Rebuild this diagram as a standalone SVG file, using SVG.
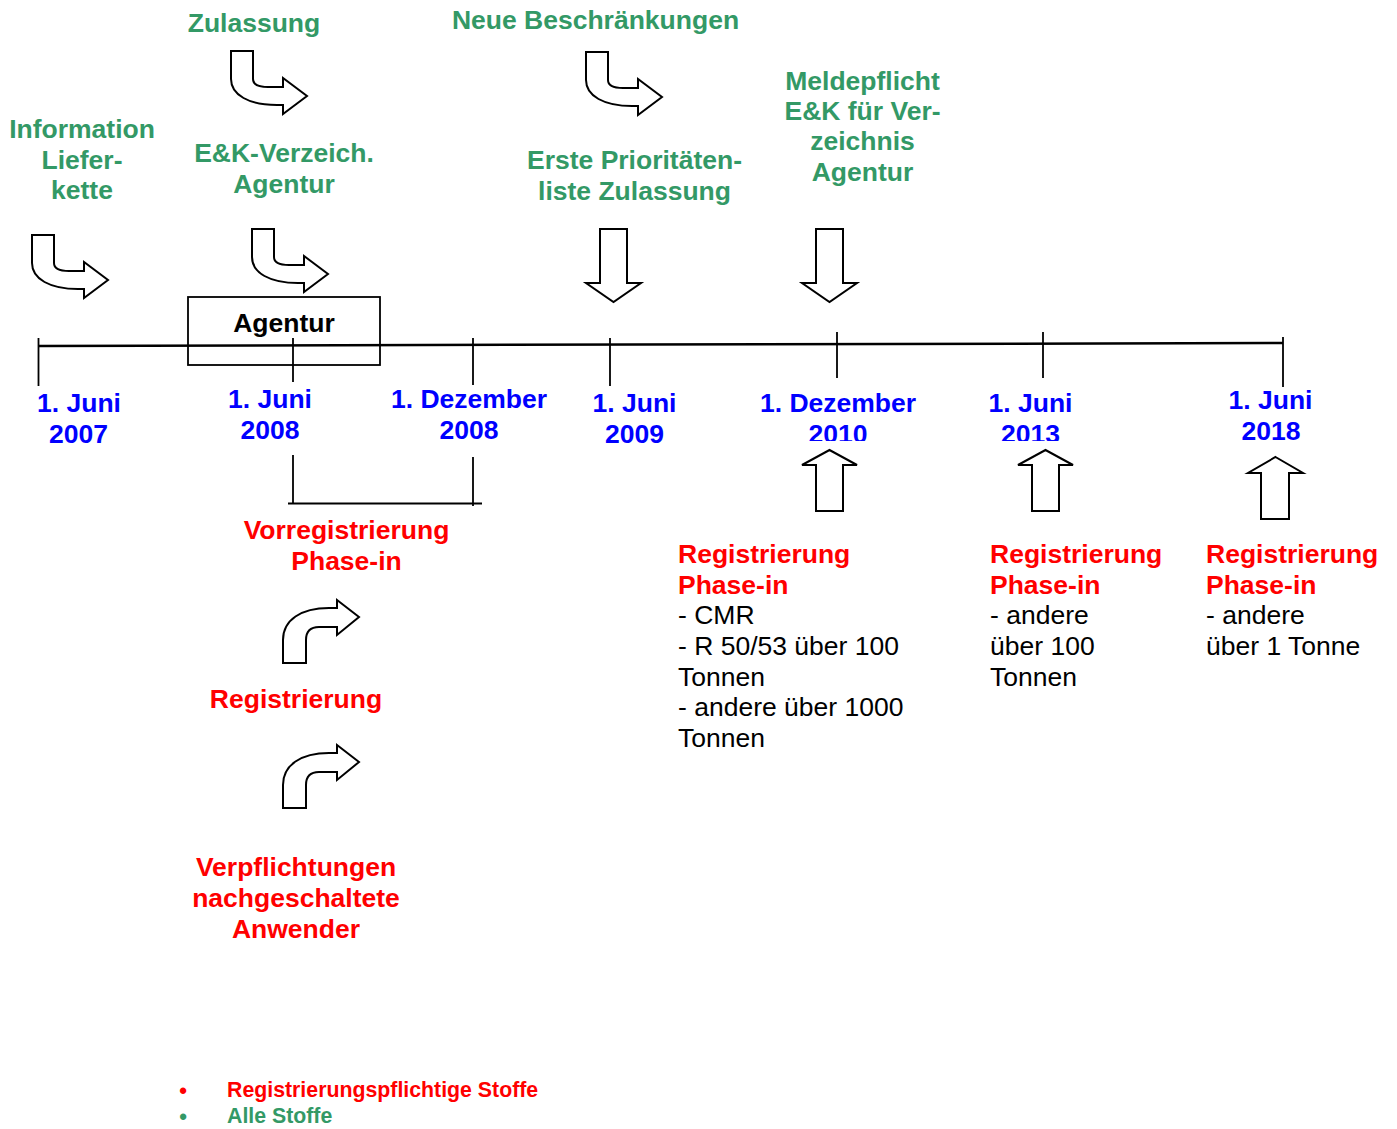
<svg xmlns="http://www.w3.org/2000/svg" width="1397" height="1129" viewBox="0 0 1397 1129">
<style>
text{font-family:"Liberation Sans",Arial,sans-serif;font-size:26.5px}
.b{font-weight:bold}
.g{fill:#339966;font-weight:bold;text-anchor:middle}
.bl{fill:#0000ff;font-weight:bold;text-anchor:middle}
.r{fill:#ff0000;font-weight:bold}
.rc{text-anchor:middle}
.k{fill:#000}
.lg{font-size:21.3px;font-weight:bold}
.bu{font-size:22px;font-weight:bold;text-anchor:middle}
.arr{fill:#fff;stroke:#000;stroke-width:2;stroke-linejoin:miter}
.tl{stroke:#000;stroke-width:2.5;fill:none}
.tk{stroke:#000;stroke-width:1.8;fill:none}
</style>
<defs>
<path id="bentDR" d="M0,0 H22 V28 C22,33 27,36 37,36 H52 V27 L76,45 L52,63 V54 H46 C18,54 0,44 0,28 Z"/>
<path id="bentUR" d="M0,63 V40 C0,20 18,8 46,8 H54 V0 L76,17 L54,35 V27 H36 C27,27 23,32 23,40 V63 Z"/>
<clipPath id="clipYr"><rect x="0" y="0" width="1397" height="441"/></clipPath>
</defs>
<rect width="1397" height="1129" fill="#fff"/>

<g id="connectors">
  <line class="tl" x1="38" y1="346" x2="1283" y2="343"/>
  <line class="tk" x1="38.5" y1="338" x2="38.5" y2="386"/>
  <line class="tk" x1="293" y1="338" x2="293" y2="382"/>
  <line class="tk" x1="473" y1="338" x2="473" y2="385"/>
  <line class="tk" x1="610" y1="338" x2="610" y2="386"/>
  <line class="tk" x1="837" y1="332" x2="837" y2="378"/>
  <line class="tk" x1="1043" y1="332" x2="1043" y2="378"/>
  <line class="tk" x1="1283" y1="337" x2="1283" y2="387"/>
  <path class="tk" d="M293,455 V503 M473,457 V506 M288,503.5 H482"/>
  <use href="#bentDR" class="arr" x="32" y="235"/>
  <use href="#bentDR" class="arr" x="252" y="229"/>
  <use href="#bentDR" class="arr" x="231" y="51"/>
  <use href="#bentDR" class="arr" x="586" y="52"/>
  <path class="arr" d="M600,229 H627 V283 H641 L613.5,302 L586,283 H600 Z"/>
  <path class="arr" d="M816,229 H843 V283 H857 L829.5,302 L802,283 H816 Z"/>
  <path class="arr" d="M829.5,450 L857,465 H843 V511 H816 V465 H802 Z"/>
  <path class="arr" d="M1045.5,450 L1073,465 H1059 V511 H1032 V465 H1018 Z"/>
  <path class="arr" d="M1275.5,457 L1303,473 H1289 V519 H1261 V473 H1248 Z"/>
  <use href="#bentUR" class="arr" x="283" y="600"/>
  <use href="#bentUR" class="arr" x="283" y="745"/>
</g>

<g id="agentur-box">
  <rect x="188" y="297" width="192" height="68" fill="none" stroke="#000" stroke-width="1.8"/>
  <text class="b k" x="284" y="332" text-anchor="middle">Agentur</text>
</g>

<g id="green-information"><text class="g" x="82" y="138">Information</text><text class="g" x="82" y="169">Liefer-</text><text class="g" x="82" y="199">kette</text></g>
<g id="green-zulassung"><text class="g" x="254" y="32">Zulassung</text></g>
<g id="green-ek"><text class="g" x="284" y="162">E&amp;K-Verzeich.</text><text class="g" x="284" y="193">Agentur</text></g>
<g id="green-neue"><text class="g" x="595.5" y="29">Neue Beschränkungen</text></g>
<g id="green-erste"><text class="g" x="634.5" y="169">Erste Prioritäten-</text><text class="g" x="634.5" y="200">liste Zulassung</text></g>
<g id="green-meldepflicht"><text class="g" x="862.5" y="90">Meldepflicht</text><text class="g" x="862.5" y="120">E&amp;K für Ver-</text><text class="g" x="862.5" y="150">zeichnis</text><text class="g" x="862.5" y="181">Agentur</text></g>

<g id="date-2007"><text class="bl" x="79" y="412">1. Juni</text><text class="bl" x="78.5" y="443">2007</text></g>
<g id="date-2008-jun"><text class="bl" x="270" y="408">1. Juni</text><text class="bl" x="270" y="439">2008</text></g>
<g id="date-2008-dez"><text class="bl" x="469" y="408">1. Dezember</text><text class="bl" x="469" y="439">2008</text></g>
<g id="date-2009"><text class="bl" x="634.5" y="412">1. Juni</text><text class="bl" x="634.5" y="443">2009</text></g>
<g id="date-2010"><text class="bl" x="838" y="412">1. Dezember</text><text class="bl" x="838" y="443" clip-path="url(#clipYr)">2010</text></g>
<g id="date-2013"><text class="bl" x="1030.5" y="412">1. Juni</text><text class="bl" x="1030.5" y="443" clip-path="url(#clipYr)">2013</text></g>
<g id="date-2018"><text class="bl" x="1270.5" y="409">1. Juni</text><text class="bl" x="1271" y="440">2018</text></g>

<g id="red-vorreg"><text class="r rc" x="346.5" y="539">Vorregistrierung</text><text class="r rc" x="346.5" y="570">Phase-in</text></g>
<g id="red-reg"><text class="r rc" x="296" y="708">Registrierung</text></g>
<g id="red-verpfl"><text class="r rc" x="296" y="876">Verpflichtungen</text><text class="r rc" x="296" y="907">nachgeschaltete</text><text class="r rc" x="296" y="938">Anwender</text></g>

<g id="reg-2010">
  <text class="r" x="678" y="563">Registrierung</text>
  <text class="r" x="678" y="593.5">Phase-in</text>
  <text class="k" x="678" y="624">- CMR</text>
  <text class="k" x="678" y="655">- R 50/53 über 100</text>
  <text class="k" x="678" y="685.5">Tonnen</text>
  <text class="k" x="678" y="716">- andere über 1000</text>
  <text class="k" x="678" y="747">Tonnen</text>
</g>
<g id="reg-2013">
  <text class="r" x="990" y="563">Registrierung</text>
  <text class="r" x="990" y="593.5">Phase-in</text>
  <text class="k" x="990" y="624">- andere</text>
  <text class="k" x="990" y="655">über 100</text>
  <text class="k" x="990" y="685.5">Tonnen</text>
</g>
<g id="reg-2018">
  <text class="r" x="1206" y="563">Registrierung</text>
  <text class="r" x="1206" y="593.5">Phase-in</text>
  <text class="k" x="1206" y="624">- andere</text>
  <text class="k" x="1206" y="655">über 1 Tonne</text>
</g>

<g id="legend">
  <text class="bu" x="183" y="1098" fill="#ff0000">•</text>
  <text class="lg" x="227" y="1097" fill="#ff0000">Registrierungspflichtige Stoffe</text>
  <text class="bu" x="183" y="1124" fill="#339966">•</text>
  <text class="lg" x="227" y="1123" fill="#339966">Alle Stoffe</text>
</g>
</svg>
